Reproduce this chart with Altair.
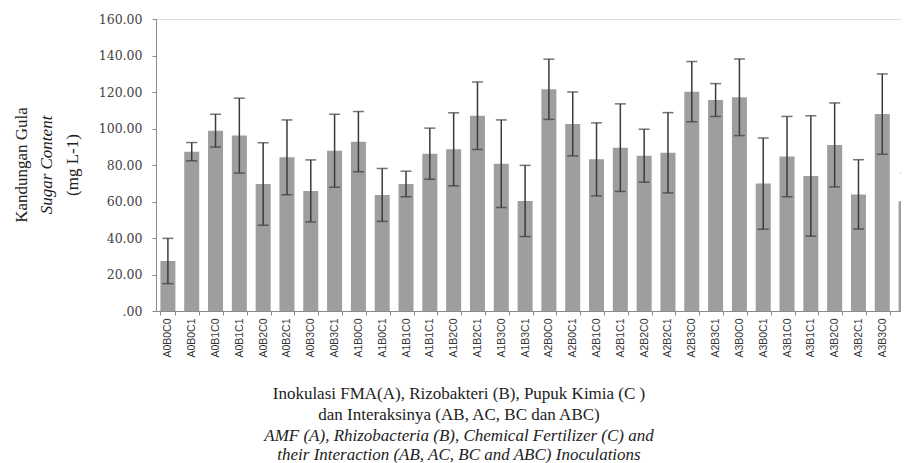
import altair as alt
import pandas as pd

labels = [
    "A0B0C0", "A0B0C1", "A0B1C0", "A0B1C1", "A0B2C0", "A0B2C1", "A0B3C0", "A0B3C1",
    "A1B0C0", "A1B0C1", "A1B1C0", "A1B1C1", "A1B2C0", "A1B2C1", "A1B3C0", "A1B3C1",
    "A2B0C0", "A2B0C1", "A2B1C0", "A2B1C1", "A2B2C0", "A2B2C1", "A2B3C0", "A2B3C1",
    "A3B0C0", "A3B0C1", "A3B1C0", "A3B1C1", "A3B2C0", "A3B2C1", "A3B3C0", "A3B3C1",
]
means = [27.4, 87.3, 98.8, 96.1, 69.6, 84.2, 65.8, 87.8,
         92.8, 63.6, 69.6, 86.2, 88.6, 107.0, 80.7, 60.3,
         121.5, 102.5, 83.1, 89.5, 85.1, 86.7, 120.2, 115.6,
         117.1, 69.8, 84.6, 74.0, 91.0, 63.9, 107.9, 60.1]
errors = [12.4, 5.0, 9.0, 20.5, 22.6, 20.5, 17.0, 20.0,
          16.5, 14.5, 7.0, 14.0, 20.0, 18.5, 24.0, 19.5,
          16.5, 17.5, 20.0, 24.0, 14.5, 22.0, 16.5, 9.0,
          21.0, 25.0, 22.0, 33.0, 23.0, 19.0, 22.0, 15.5]
y_ticks = [0, 20, 40, 60, 80, 100, 120, 140, 160]

y_title_lines = ["Kandungan Gula", "Sugar Content", "(mg L-1)"]
x_title_lines = [
    "Inokulasi FMA(A), Rizobakteri (B), Pupuk Kimia (C )",
    "dan Interaksinya (AB, AC, BC dan ABC)",
    "AMF (A), Rhizobacteria (B), Chemical Fertilizer (C) and",
    "their Interaction (AB, AC, BC and ABC) Inoculations",
]

df = pd.DataFrame({"label": labels, "mean": means, "err": errors})
df["lo"] = df["mean"] - df["err"]
df["hi"] = df["mean"] + df["err"]

W = 745          # visible plot width (svg is 893 wide)
RANGE = 762      # full band range, last band runs past the right edge
H = 292
xscale = alt.Scale(range=[0, RANGE], paddingInner=0.37, paddingOuter=0.185)
yscale = alt.Scale(domain=[0, 160], nice=False)
xaxis = alt.Axis(
    labelAngle=270, labelFont="Liberation Sans", labelFontSize=10.5,
    labelColor="#333333", labelPadding=3, tickBand="extent", tickSize=4,
    tickColor="#8a8a8a", domainColor="#8a8a8a", labelOverlap=False,
)
yaxis = alt.Axis(
    values=y_ticks,
    labelExpr="datum.value == 0 ? '.00' : format(datum.value, '.2f')",
    labelFont="DejaVu Serif", labelFontSize=12.5, labelColor="#444444",
    labelPadding=10, tickSize=4, tickColor="#8a8a8a", domainColor="#8a8a8a",
    grid=False, labelOverlap=False, labelBound=False, labelFlush=False,
)
x = alt.X("label:N", sort=labels, title=None, scale=xscale, axis=xaxis)

base = alt.Chart(df)
bars = base.mark_bar(color="#9e9e9e").encode(
    x=x, y=alt.Y("mean:Q", title=None, scale=yscale, axis=yaxis))
rule = base.mark_rule(color="#3a3a3a", strokeWidth=1.5).encode(
    x=x, y=alt.Y("lo:Q", title=None, scale=yscale, axis=yaxis), y2="hi:Q")
cap_lo = base.mark_tick(color="#3a3a3a", thickness=1.5, size=11).encode(
    x=x, y=alt.Y("lo:Q", title=None, scale=yscale, axis=yaxis))
cap_hi = base.mark_tick(color="#3a3a3a", thickness=1.5, size=11).encode(
    x=x, y=alt.Y("hi:Q", title=None, scale=yscale, axis=yaxis))

one = pd.DataFrame({"k": [0]})
texts = []
ytx = [-134, -109, -83]
for i, t in enumerate(y_title_lines):
    texts.append(alt.Chart(one).mark_text(
        text=t, angle=270, align="center", baseline="middle",
        font="Liberation Serif", fontSize=17, color="#222222",
        fontStyle="italic" if i == 1 else "normal",
    ).encode(x=alt.value(ytx[i]), y=alt.value(146)))

xty = [380, 401, 422, 441]
for i, t in enumerate(x_title_lines):
    texts.append(alt.Chart(one).mark_text(
        text=t, align="center", baseline="alphabetic",
        font="Liberation Serif", fontSize=17, color="#222222",
        fontStyle="italic" if i >= 2 else "normal",
    ).encode(x=alt.value(303), y=alt.value(xty[i])))

chart = alt.layer(bars, rule, cap_lo, cap_hi, *texts).properties(
    width=W, height=H,
    autosize=alt.AutoSizeParams(type="none"),
    padding={"left": 148, "top": 11, "right": 0, "bottom": 152},
).configure_view(stroke=None).configure(background="white")

chart.save("out.html", embed_options={"renderer": "svg", "actions": False})
